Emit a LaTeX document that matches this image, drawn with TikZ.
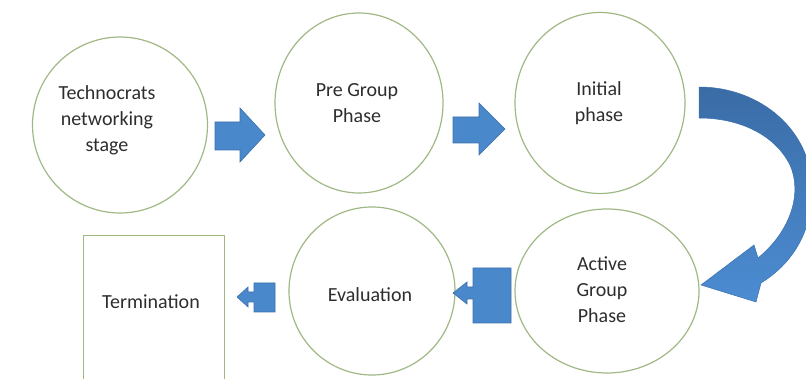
\documentclass[tikz,border=0pt]{standalone}
\usepackage{fontspec}
\setmainfont{Carlito}
\usetikzlibrary{shapes.geometric}
\definecolor{ringcol}{RGB}{160,184,132}
\definecolor{txtcol}{RGB}{45,45,45}
\definecolor{arrowfill}{RGB}{74,136,204}
\definecolor{arrowedge}{RGB}{60,112,172}
\definecolor{curvetop}{RGB}{58,108,166}
\definecolor{curvebot}{RGB}{76,140,210}
\begin{document}
\begin{tikzpicture}[x=1pt,y=-1pt,
  stage/.style={ellipse, draw=ringcol, line width=1.2pt, inner sep=0pt},
  boxstage/.style={rectangle, draw=ringcol, line width=1.2pt, inner sep=0pt},
  caption/.style={align=center, text=txtcol, font=\fontsize{20}{26}\selectfont},
  blockarrow/.style={fill=arrowfill, draw=arrowedge, line width=0.6pt, line join=miter}]
\useasboundingbox (0,0) rectangle (806,379);
\clip (0,0) rectangle (806,379);

% stage rings
\node[stage, minimum width=175, minimum height=176] (tech) at (120,125) {};
\node[stage, minimum width=168, minimum height=180] (pre)  at (359,103) {};
\node[stage, minimum width=170, minimum height=181] (init) at (600,103) {};
\node[stage, minimum width=184, minimum height=164] (act)  at (607,291) {};
\node[stage, minimum width=166, minimum height=168] (eval) at (372,291) {};
\node[boxstage, minimum width=141, minimum height=152, anchor=north west] (term) at (83,235) {};

% stage captions
\node[caption] (techtxt) at (107,120) {Technocrats\\networking\\stage};
\node[caption] (pretxt)  at (357,103) {Pre Group\\Phase};
\node[caption] (inittxt) at (599,103) {Initial\\phase};
\node[caption] (acttxt)  at (602,290) {Active\\Group\\Phase};
\node[caption] (evaltxt) at (370,295) {Evaluation};
\node[caption] (termtxt) at (151,302) {Termination};

% straight block arrows along the top row
\draw[blockarrow] (215,122) -- (240,122) -- (240,108) -- (265,135) -- (240,162) -- (240,150) -- (215,150) -- cycle;
\draw[blockarrow] (453,117) -- (479,117) -- (479,103) -- (505,129) -- (479,155) -- (479,143) -- (453,143) -- cycle;

% curved arrow from the top row down to the active phase
\shade[top color=curvetop, bottom color=curvebot, draw=arrowedge, line width=0.5pt]
  (699,87) .. controls (760,87) and (812,130) .. (812,190)
           .. controls (812,235) and (790,265) .. (761,283)
  -- (756,302) -- (701,285) -- (754,245) -- (758,258)
           .. controls (792,230) and (802,192) .. (790,165)
           .. controls (775,135) and (740,118) .. (699,118) -- cycle;

% callout arrows along the bottom row
\draw[blockarrow] (511,268) -- (473,268) -- (473,287) -- (467,287) -- (467,282) -- (453,293)
  -- (467,304) -- (467,299) -- (473,299) -- (473,323) -- (511,323) -- cycle;
\draw[blockarrow] (275,283) -- (254,283) -- (254,292) -- (248,292) -- (248,287) -- (237,297)
  -- (248,307) -- (248,302) -- (254,302) -- (254,312) -- (275,312) -- cycle;
\end{tikzpicture}
\end{document}
